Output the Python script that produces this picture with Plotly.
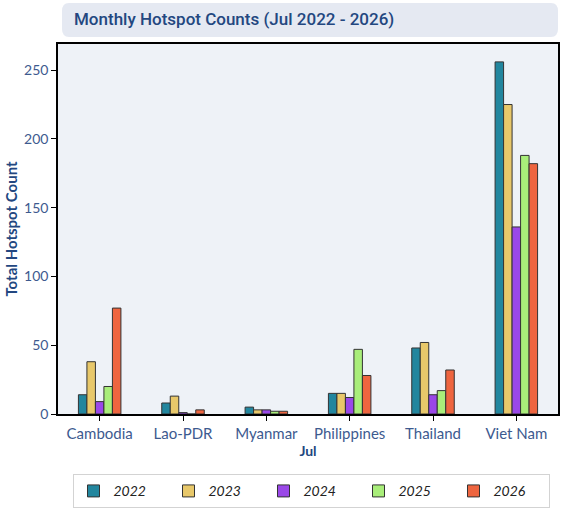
import plotly.graph_objects as go

countries = ['Cambodia', 'Lao-PDR', 'Myanmar', 'Philippines', 'Thailand', 'Viet Nam']
years = ['2022', '2023', '2024', '2025', '2026']

counts_2022 = [14, 8, 5, 15, 48, 256]
counts_2023 = [38, 13, 3, 15, 52, 225]
counts_2024 = [9, 1, 3, 12, 14, 136]
counts_2025 = [20, 0, 2, 47, 17, 188]
counts_2026 = [77, 3, 2, 28, 32, 182]

colors = ['#22869e', '#e8c86a', '#9a48e8', '#a9ee7a', '#ee653f']

title_blue = '#234780'
tick_blue = '#3d5a8f'

fig = go.Figure()
for year, vals, col in zip(years,
                           [counts_2022, counts_2023, counts_2024, counts_2025, counts_2026],
                           colors):
    fig.add_trace(go.Bar(
        name=year, x=countries, y=vals,
        marker=dict(color=col, line=dict(color='#333333', width=1)),
    ))

# rounded title box (paper coords)
x0, x1 = 0.008, 1.0
y0, y1 = 1.019, 1.111
rx, ry = 0.014, 0.022
path = (f'M {x0+rx},{y0} L {x1-rx},{y0} Q {x1},{y0} {x1},{y0+ry} '
        f'L {x1},{y1-ry} Q {x1},{y1} {x1-rx},{y1} L {x0+rx},{y1} '
        f'Q {x0},{y1} {x0},{y1-ry} L {x0},{y0+ry} Q {x0},{y0} {x0+rx},{y0} Z')
fig.add_shape(type='path', path=path, xref='paper', yref='paper',
              fillcolor='#e5e9f2', line=dict(width=0), layer='below')

fig.add_annotation(text='Monthly Hotspot Counts (Jul 2022 - 2026)',
                   xref='paper', yref='paper', x=0.028, y=1.067,
                   xanchor='left', yanchor='middle', showarrow=False,
                   font=dict(family='Roboto', size=17, weight=500, color=title_blue))

fig.update_layout(
    width=568, height=511,
    margin=dict(l=58, r=10, t=44, b=97, autoexpand=False),
    paper_bgcolor='white',
    plot_bgcolor='#eef2f7',
    barmode='group',
    bargap=0.49,
    bargroupgap=0,
    font=dict(family='Lato, Open Sans, sans-serif', color=tick_blue, size=15),
    legend=dict(orientation='h', x=0.506, xanchor='center', y=-0.163, yanchor='top',
                bordercolor='#d3d3d3', borderwidth=1,
                font=dict(size=14, color='#222222', style='italic'),
                itemwidth=30, entrywidth=50, tracegroupgap=0),
    showlegend=True,
)

fig.update_xaxes(
    title=dict(text='<b>Jul</b>', font=dict(size=14, color=title_blue), standoff=1),
    showline=True, linecolor='black', linewidth=1.5, mirror=True,
    ticks='outside', ticklen=5, tickcolor='black',
    showgrid=False,
)
fig.update_yaxes(
    title=dict(text='<b>Total Hotspot Count</b>', font=dict(size=15, color=title_blue), standoff=3),
    range=[0, 269], tickvals=[0, 50, 100, 150, 200, 250],
    tickfont=dict(size=14),
    showline=True, linecolor='black', linewidth=1.5, mirror=True,
    ticks='outside', ticklen=5, tickcolor='black',
    showgrid=False, zeroline=False,
)

# page body has a default 8px margin; drop it so the figure sits at the corner
fig.write_html('out.html', config={'displayModeBar': False},
               post_script="document.body.style.margin='0';")
